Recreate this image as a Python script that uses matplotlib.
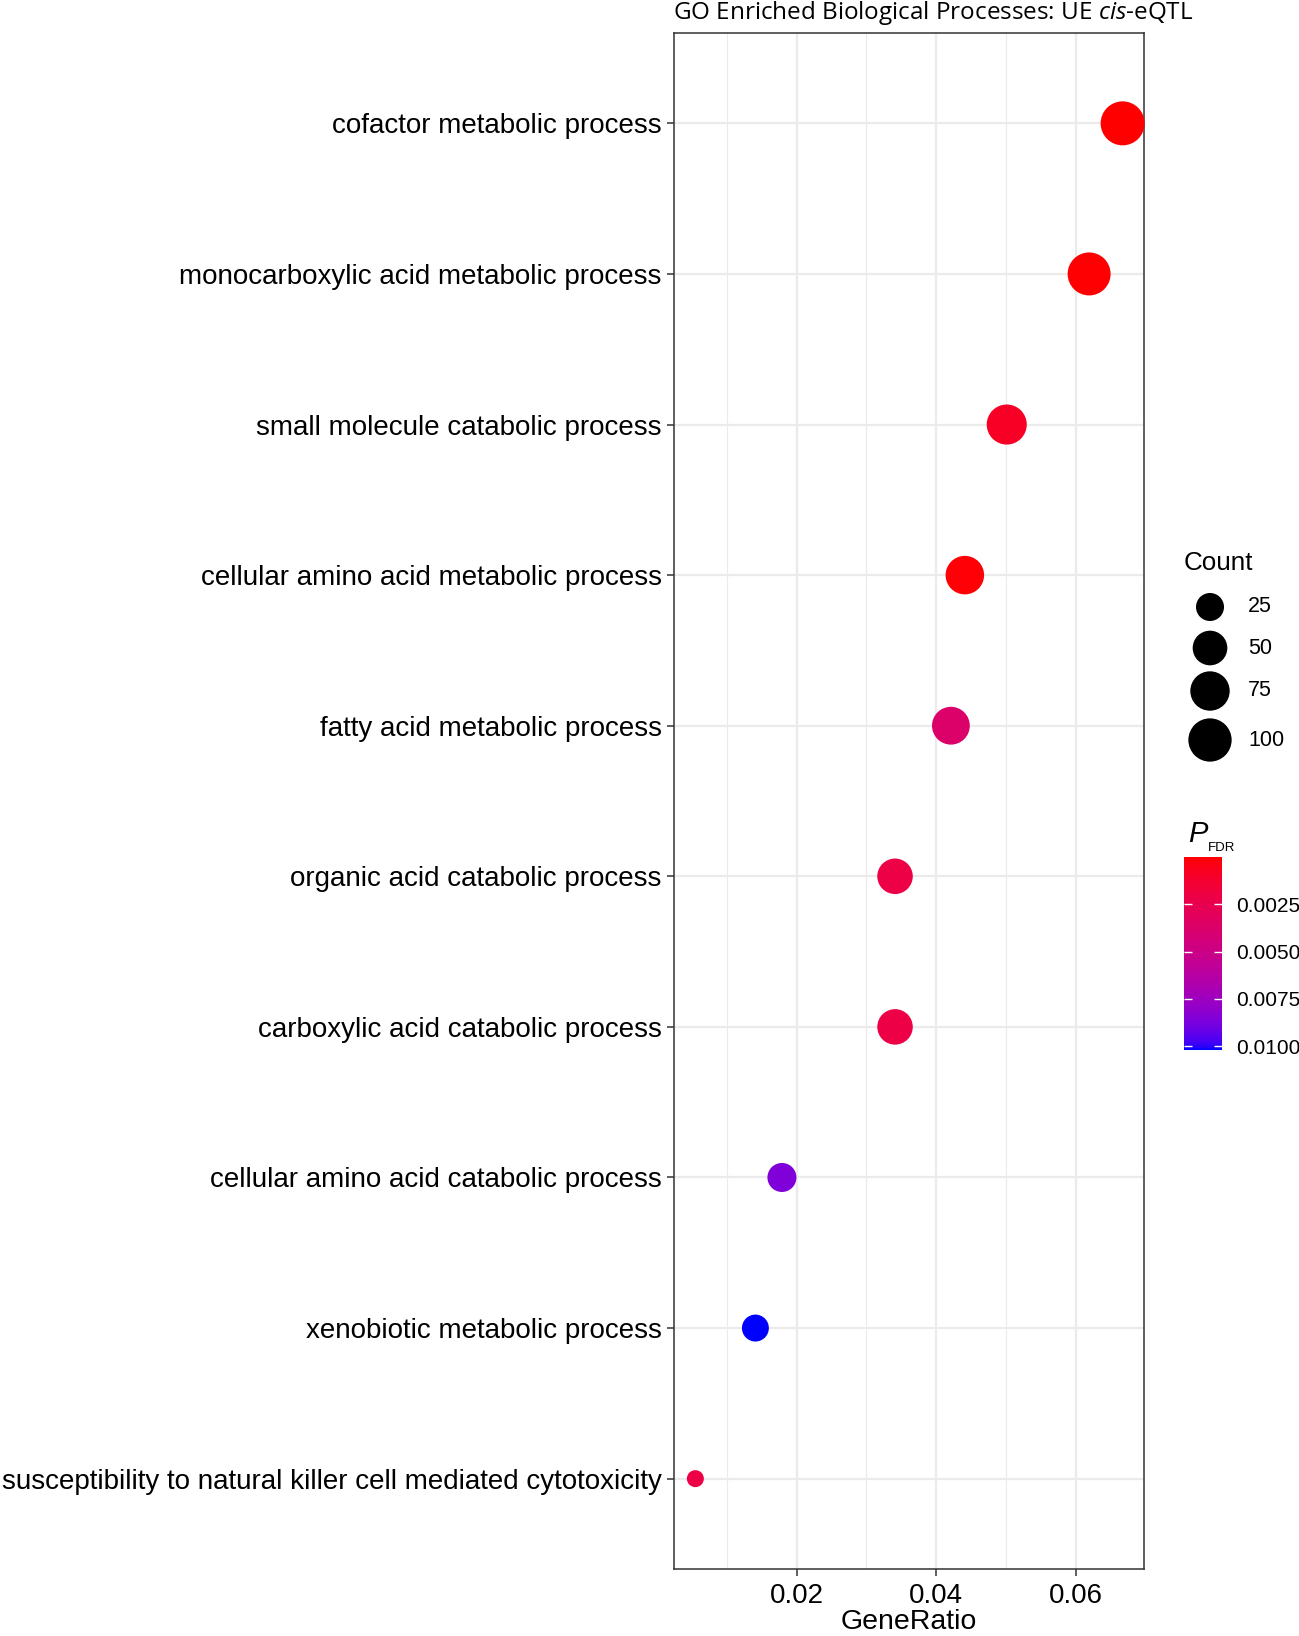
import numpy as np
import matplotlib
matplotlib.use('Agg')
import matplotlib.pyplot as plt
from matplotlib.colors import ListedColormap, Normalize, to_rgb
from matplotlib.cm import ScalarMappable

plt.rcParams['font.family'] = ['Liberation Sans', 'DejaVu Sans']
plt.rcParams['mathtext.fontset'] = 'custom'
plt.rcParams['mathtext.rm'] = 'Open Sans'
plt.rcParams['mathtext.it'] = 'Open Sans:italic'

# GO terms, top to bottom
terms = ['cofactor metabolic process',
         'monocarboxylic acid metabolic process',
         'small molecule catabolic process',
         'cellular amino acid metabolic process',
         'fatty acid metabolic process',
         'organic acid catabolic process',
         'carboxylic acid catabolic process',
         'cellular amino acid catabolic process',
         'xenobiotic metabolic process',
         'susceptibility to natural killer cell mediated cytotoxicity']
gene_ratio = [0.0667, 0.0619, 0.0501, 0.0441, 0.0421, 0.0341, 0.0341, 0.0179, 0.0141, 0.0055]
counts = [105, 98, 79, 70, 66, 54, 54, 28, 22, 9]
p_fdr = [0.00001, 0.00005, 0.0009, 0.0001, 0.0037, 0.0021, 0.0021, 0.0086, 0.0102, 0.0021]

size_breaks = [25, 50, 75, 100]
p_breaks = [0.0025, 0.0050, 0.0075, 0.0100]

W, H, DPI = 1299, 1636, 100


def to_lab(c):
    rgb = np.array(to_rgb(c))
    lin = np.where(rgb <= 0.04045, rgb / 12.92, ((rgb + 0.055) / 1.055) ** 2.4)
    m = np.array([[0.4124, 0.3576, 0.1805], [0.2126, 0.7152, 0.0722], [0.0193, 0.1192, 0.9505]])
    xyz = m @ lin / np.array([0.95047, 1.0, 1.08883])
    d = 6 / 29
    f = np.where(xyz > d ** 3, np.cbrt(xyz), xyz / (3 * d * d) + 4 / 29)
    return np.array([116 * f[1] - 16, 500 * (f[0] - f[1]), 200 * (f[1] - f[2])])


def from_lab(lab):
    d = 6 / 29
    fy = (lab[0] + 16) / 116
    f = np.array([fy + lab[1] / 500, fy, fy - lab[2] / 200])
    xyz = np.where(f > d, f ** 3, 3 * d * d * (f - 4 / 29)) * np.array([0.95047, 1.0, 1.08883])
    m = np.array([[3.2406, -1.5372, -0.4986], [-0.9689, 1.8758, 0.0415], [0.0557, -0.2040, 1.0570]])
    lin = np.clip(m @ xyz, 0, 1)
    rgb = np.where(lin <= 0.0031308, lin * 12.92, 1.055 * lin ** (1 / 2.4) - 0.055)
    return np.clip(rgb, 0, 1)


# red -> blue gradient interpolated in Lab, like ggplot
lo, hi = to_lab('red'), to_lab('blue')
cmap = ListedColormap([from_lab(lo + (hi - lo) * t) for t in np.linspace(0, 1, 256)])
norm = Normalize(min(p_fdr), max(p_fdr))

# area scale: diameter in px
cmin, cmax = min(counts), max(counts)
def diam(c):
    return 17 + 27 * np.sqrt((np.asarray(c, float) - cmin) / (cmax - cmin))
def area_pts(c):
    return (diam(c) * 72 / DPI) ** 2

fig = plt.figure(figsize=(W / DPI, H / DPI), dpi=DPI)
left, right, top, bottom = 674, 1144, 33, 1569
ax = fig.add_axes([left / W, 1 - bottom / H, (right - left) / W, (bottom - top) / H])

n = len(terms)
ypos = np.arange(n, 0, -1)
ax.scatter(gene_ratio, ypos, s=area_pts(counts), c=p_fdr, cmap=cmap, norm=norm,
           linewidths=0, zorder=3, clip_on=False)

span = max(gene_ratio) - min(gene_ratio)
ax.set_xlim(min(gene_ratio) - 0.05 * span, max(gene_ratio) + 0.05 * span)
ax.set_ylim(0.4, n + 0.6)
ax.set_xticks([0.02, 0.04, 0.06])
ax.set_xticklabels(['0.02', '0.04', '0.06'])
ax.set_xticks([0.01, 0.03, 0.05], minor=True)
ax.set_yticks(ypos)
ax.set_yticklabels(terms)
ax.grid(True, which='major', color='#EBEBEB', linewidth=1.6, zorder=0)
ax.grid(True, which='minor', axis='x', color='#EBEBEB', linewidth=0.8, zorder=0)
ax.set_axisbelow(True)
ax.tick_params(which='major', length=5, width=1.1, color='#333333', labelsize=20,
               labelcolor='black', pad=4)
ax.tick_params(axis='x', pad=5)
ax.tick_params(which='minor', length=0)
for s in ax.spines.values():
    s.set_color('#333333')
    s.set_linewidth(1.1)

# x label sits at the very bottom edge
fig.text(909 / W, 1 / H, 'GeneRatio', ha='center', va='bottom', fontsize=20.5)
fig.text(673 / W, 1 - 13 / H, 'GO Enriched Biological Processes: UE $\\mathit{cis}$-eQTL',
         ha='left', va='center', fontsize=17.5, family='Open Sans')

# size legend
fig.text(1184 / W, 1 - 563 / H, 'Count', ha='left', va='center', fontsize=18.7)
leg_y = [607, 648, 691, 740]
lax = fig.add_axes([0, 0, 1, 1], facecolor='none')
lax.set_xlim(0, W)
lax.set_ylim(H, 0)
lax.axis('off')
lax.scatter([1210] * 4, leg_y, s=area_pts(size_breaks), color='black', linewidths=0)
for yy, b in zip(leg_y, size_breaks):
    lax.text(1248, yy, str(b), ha='left', va='center', fontsize=15.5)

# colour bar
fig.text(1188 / W, 1 - 834 / H, 'P', ha='left', va='center', fontsize=21, style='italic')
fig.text(1208 / W, 1 - 848 / H, 'FDR', ha='left', va='center', fontsize=9.5)
cb_top, cb_bot = 857, 1050
cax = fig.add_axes([1184 / W, 1 - cb_bot / H, 38 / W, (cb_bot - cb_top) / H])
cb = fig.colorbar(ScalarMappable(norm=norm, cmap=cmap), cax=cax)
cb.outline.set_visible(False)
cax.invert_yaxis()
cb.set_ticks(p_breaks)
cb.set_ticklabels(['%.4f' % v for v in p_breaks])
cax.yaxis.set_ticks_position('both')
cax.tick_params(direction='in', length=6, width=1, color='white', labelsize=15,
                labelleft=False, labelright=True, pad=10)

fig.savefig('out.png', dpi=DPI)
